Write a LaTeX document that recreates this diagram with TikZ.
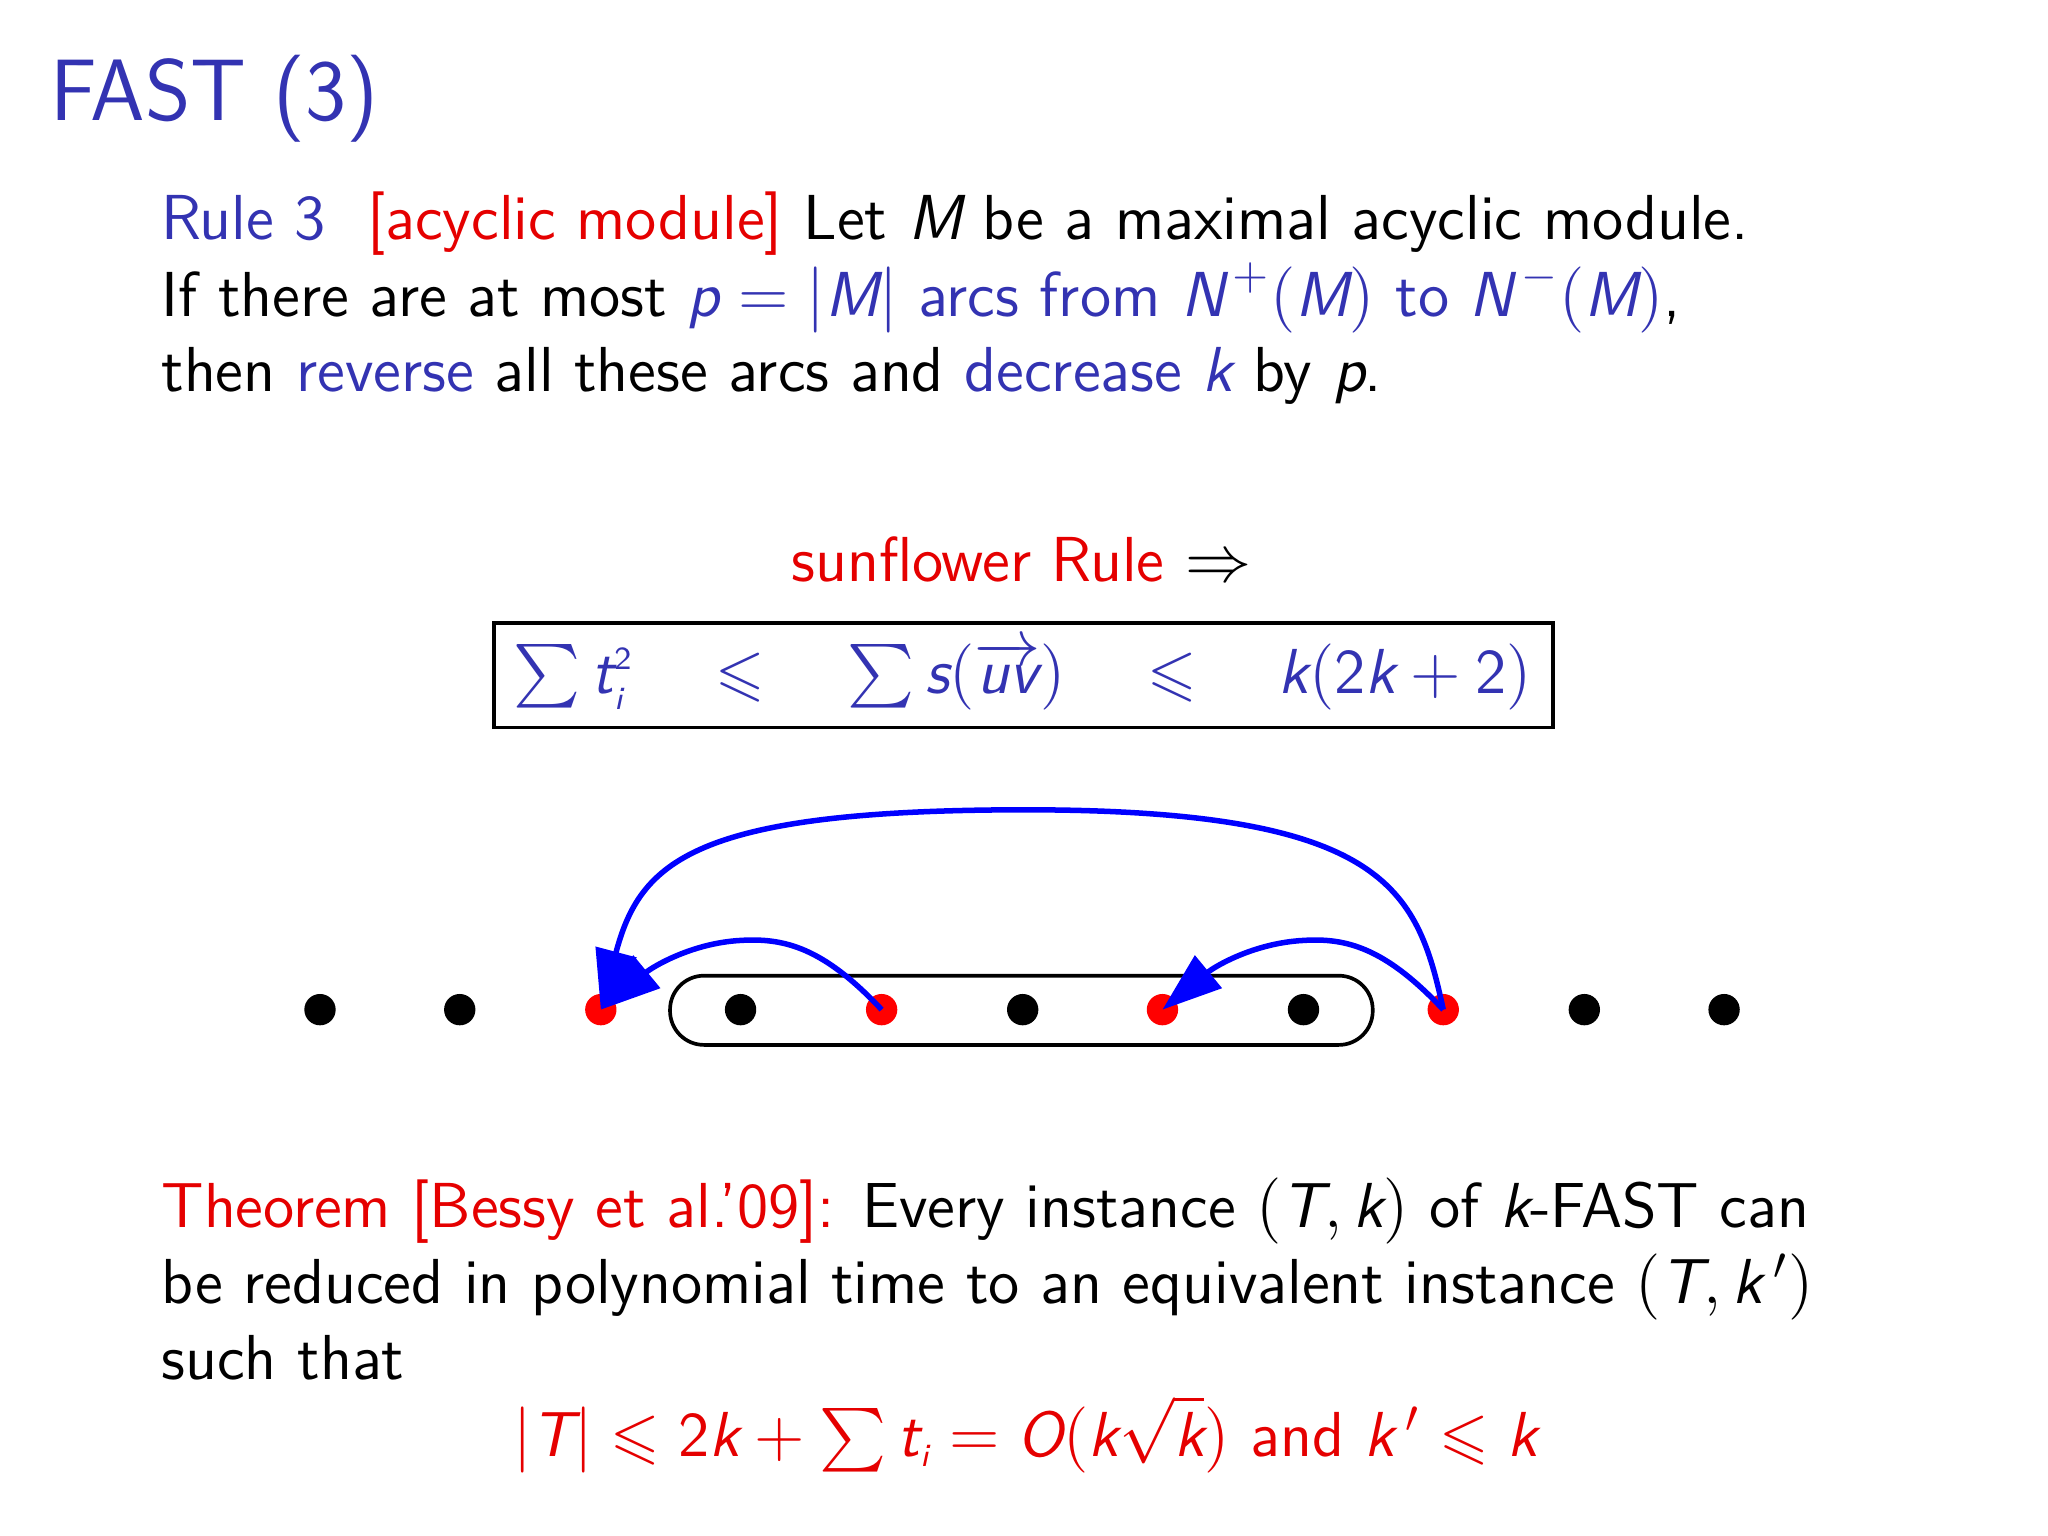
\documentclass[tikz,border=0pt]{standalone}
\usepackage{amsmath,amssymb}
\usepackage{sansmath}
\usetikzlibrary{arrows.meta}
\definecolor{bblue}{rgb}{0.2,0.2,0.7}
\definecolor{rred}{rgb}{0.9,0,0}
\newcommand\vv[1]{\mbox{\sffamily\itshape #1}}
\newcommand\vs[1]{\mbox{\sffamily\itshape\scriptsize #1}}
\newcommand\dg[1]{\mbox{\sffamily #1}}
\tikzset{
 txt/.style={anchor=base west,inner sep=0pt,font=\sffamily\sansmath\fontsize{13.85}{17}\selectfont},
 dot/.style={circle,fill=black,inner sep=0pt,minimum size=2.4mm},
 rdot/.style={dot,fill=red},
 arc/.style={draw=blue,line width=1.2pt,-{Triangle[length=13pt,width=9pt]}}
}
\begin{document}
\begin{tikzpicture}[x=0.1mm,y=-0.1mm]
\useasboundingbox (0,0) rectangle (1568,1176);
\node[txt,font=\sffamily\fontsize{19}{23}\selectfont,text=bblue] (title) at (38,92) {FAST (3)};
\node[txt] (l1) at (123,183) {\textcolor{bblue}{Rule 3}\ \ \textcolor{rred}{[acyclic module]} Let $\vv{M}$ be a maximal acyclic module.};
\node[txt] (l2) at (123,242) {If there are at most \textcolor{bblue}{$\vv{p}=|\vv{M}|$ arcs from $\vv{N}^{\,+}(\vv{M})$ to $\vv{N}^{\,-}(\vv{M})$},};
\node[txt] (l3) at (123,300) {then \textcolor{bblue}{reverse} all these arcs and \textcolor{bblue}{decrease $\vv{k}$} by $\vv{p}$.};
\node[txt,anchor=base,text=rred] (sf) at (782,445) {sunflower Rule \textcolor{black}{$\Rightarrow$}};
\draw[line width=0.8pt] (378,477) rectangle (1189,557);
\node[txt,anchor=center,text=bblue] (box) at (783,517) {$\sum \vv{t}_{\vs{i}}^{\dg{\scriptsize 2}} \quad\leqslant\quad \sum \vv{s}(\overrightarrow{\vv{uv}}) \quad\leqslant\quad \vv{k}(\dg{2}\vv{k}+\dg{2})$};
\draw[line width=0.8pt,rounded corners=2.6mm] (513,747) rectangle (1051,800);
\foreach \x/\n in {245/a,352/b,567/d,783/f,998/h,1213/j,1320/k} \node[dot] (\n) at (\x,773) {};
\foreach \x/\n in {460/c,675/e,890/g,1105/i} \node[rdot] (\n) at (\x,773) {};
\draw[arc] (i.center) .. controls (1085,680) and (1060,620) .. (785,620) .. controls (530,620) and (490,660) .. (c.center);
\draw[arc] (e.center) .. controls (630,725) and (600,718) .. (567,720) .. controls (530,722) and (500,740) .. (c.center);
\draw[arc] (i.center) .. controls (1060,725) and (1030,718) .. (998,720) .. controls (960,722) and (930,740) .. (g.center);
\node[txt] (t1) at (123,940) {\textcolor{rred}{Theorem [Bessy et al.'09]:} Every instance $(\vv{T},\vv{k})$ of $\vv{k}$-FAST can};
\node[txt] (t2) at (123,998) {be reduced in polynomial time to an equivalent instance $(\vv{T},\vv{k}\,')$};
\node[txt] (t3) at (123,1056) {such that};
\node[txt,anchor=base,text=rred] (t4) at (785,1115) {$|\vv{T}|\leqslant \dg{2}\vv{k}+\sum \vv{t}_{\vs{i}} = \vv{O}(\vv{k}\sqrt{\vv{k}})$ and $\vv{k}\,'\leqslant \vv{k}$};
\end{tikzpicture}
\end{document}
